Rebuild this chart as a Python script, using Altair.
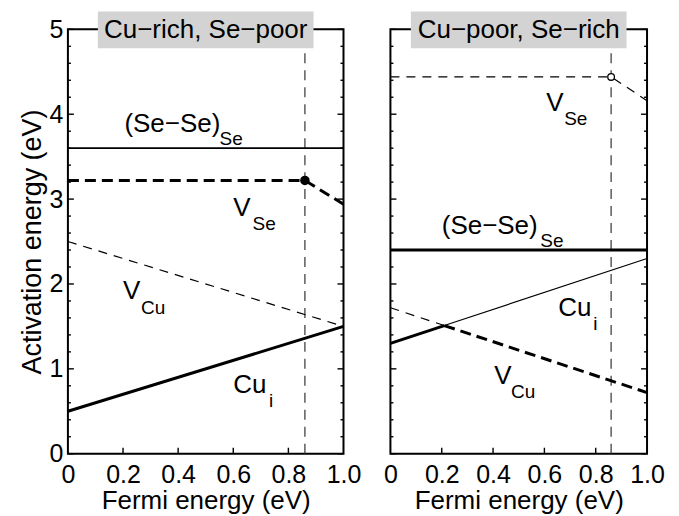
import altair as alt
import pandas as pd

# ---------------- data ----------------
fermi_level = 0.86
x_ticks = [0, 0.2, 0.4, 0.6, 0.8, 1.0]
y_major = [0, 1, 2, 3, 4, 5]
y_minor = [round(0.2 * i, 1) for i in range(26) if i % 5 != 0]

# Left panel: Cu-rich, Se-poor
L_SeSe_x = [0.0, 1.0]
L_SeSe_y = [3.6, 3.6]
L_VSe_x = [0.0, 0.86, 1.0]
L_VSe_y = [3.22, 3.22, 2.94]
L_VCu_x = [0.0, 1.0]
L_VCu_y = [2.5, 1.5]
L_Cui_x = [0.0, 1.0]
L_Cui_y = [0.5, 1.5]
L_point = (0.86, 3.22)

# Right panel: Cu-poor, Se-rich
R_VSe_x = [0.0, 0.86, 1.0]
R_VSe_y = [4.44, 4.44, 4.16]
R_SeSe_x = [0.0, 1.0]
R_SeSe_y = [2.4, 2.4]
R_Cui_low_x = [0.0, 0.21]
R_Cui_low_y = [1.3, 1.51]
R_Cui_high_x = [0.21, 1.0]
R_Cui_high_y = [1.51, 2.3]
R_VCu_high_x = [0.0, 0.21]
R_VCu_high_y = [1.72, 1.51]
R_VCu_low_x = [0.21, 1.0]
R_VCu_low_y = [1.51, 0.72]
R_point = (0.86, 4.44)

# labels (main text + subscript)
L_lab_text = ["(Se\u2212Se)", "V", "V", "Cu"]
L_lab_x = [0.205, 0.60, 0.20, 0.60]
L_lab_y = [3.79, 2.80, 1.82, 0.71]
L_sub_text = ["Se", "Se", "Cu", "i"]
L_sub_x = [0.55, 0.67, 0.265, 0.73]
L_sub_y = [3.64, 2.64, 1.65, 0.55]

R_lab_text = ["V", "(Se\u2212Se)", "Cu", "V"]
R_lab_x = [0.607, 0.20, 0.654, 0.405]
R_lab_y = [4.04, 2.59, 1.62, 0.82]
R_sub_text = ["Se", "Se", "i", "Cu"]
R_sub_x = [0.677, 0.584, 0.79, 0.47]
R_sub_y = [3.87, 2.44, 1.46, 0.66]

titles = ["Cu\u2212rich, Se\u2212poor", "Cu\u2212poor, Se\u2212rich"]

FONT = "Liberation Sans"
H = 425
W_L = 276
W_R = 257


def seg_df(*pairs):
    rows = []
    for i, (xs_, ys_) in enumerate(pairs):
        for x, y in zip(xs_, ys_):
            rows.append({"x": x, "y": y, "seg": i})
    return pd.DataFrame(rows)


xs = alt.Scale(domain=[0, 1], nice=False, zero=False)
ys = alt.Scale(domain=[0, 5], nice=False, zero=False)
XN = lambda f: alt.X(f, scale=xs, axis=None)
YN = lambda f: alt.Y(f, scale=ys, axis=None)


def lines(df, width, dash=None):
    kw = dict(color="black", strokeWidth=width, strokeCap="butt")
    if dash:
        kw["strokeDash"] = dash
    return alt.Chart(df).mark_line(**kw).encode(
        x=XN("x:Q"), y=YN("y:Q"), detail="seg:N"
    )


def ytick_layers(W, values, size):
    df = pd.DataFrame({"v": values})
    left = alt.Chart(df).mark_rule(color="black", strokeWidth=1.4).encode(
        y=YN("v:Q"), x=alt.value(0), x2=alt.value(size)
    )
    right = alt.Chart(df).mark_rule(color="black", strokeWidth=1.4).encode(
        y=YN("v:Q"), x=alt.value(W - size), x2=alt.value(W)
    )
    return [left, right]


def xtick_layer(size):
    df = pd.DataFrame({"v": x_ticks[1:-1]})
    return alt.Chart(df).mark_rule(color="black", strokeWidth=1.4).encode(
        x=XN("v:Q"), y=alt.value(H - size), y2=alt.value(H)
    )


def panel(W, title, line_layers, point, filled, lab, sub, show_y):
    x_lab_axis = alt.Axis(
        orient="bottom", values=x_ticks, ticks=False, domain=False, grid=False,
        labelExpr="datum.value == 0 ? '0' : format(datum.value, '.1f')",
        title="Fermi energy (eV)", labelFontSize=25, titleFontSize=26,
        labelPadding=9, titlePadding=0, labelFlush=False,
    )
    if show_y:
        y_axis = alt.Axis(
            orient="left", values=y_major, ticks=False, domain=False, grid=False,
            format="d", title="Activation energy (eV)", labelFontSize=25,
            titleFontSize=27, labelPadding=5, titlePadding=3,
        )
    else:
        y_axis = None

    vdf = pd.DataFrame({"x": [fermi_level], "y0": [0], "y1": [5]})
    vline = alt.Chart(vdf).mark_rule(
        color="#333333", strokeWidth=1.2, strokeDash=[10, 7]
    ).encode(
        x=alt.X("x:Q", scale=xs, axis=x_lab_axis),
        y=alt.Y("y0:Q", scale=ys, axis=y_axis),
        y2="y1:Q",
    )

    pdf = pd.DataFrame({"x": [point[0]], "y": [point[1]]})
    if filled:
        pt = alt.Chart(pdf).mark_point(filled=True, color="black", size=90, opacity=1)
    else:
        pt = alt.Chart(pdf).mark_point(
            filled=False, stroke="black", fill="white", fillOpacity=1,
            strokeWidth=1.3, size=45, opacity=1
        )
    pt = pt.encode(x=XN("x:Q"), y=YN("y:Q"))

    ldf = pd.DataFrame({"t": lab[0], "x": lab[1], "y": lab[2]})
    sdf = pd.DataFrame({"t": sub[0], "x": sub[1], "y": sub[2]})
    labels = alt.Chart(ldf).mark_text(
        align="left", baseline="alphabetic", fontSize=26, font=FONT, color="black"
    ).encode(x=XN("x:Q"), y=YN("y:Q"), text="t:N")
    subs = alt.Chart(sdf).mark_text(
        align="left", baseline="alphabetic", fontSize=19, font=FONT, color="black"
    ).encode(x=XN("x:Q"), y=YN("y:Q"), text="t:N")

    tdf = pd.DataFrame({"t": [title]})
    box = alt.Chart(tdf).mark_rect(color="#d3d3d3").encode(
        x=alt.value(W / 2 - 108), x2=alt.value(W / 2 + 108),
        y=alt.value(-18), y2=alt.value(19),
    )
    ttext = alt.Chart(tdf).mark_text(
        align="center", baseline="middle", fontSize=26, font=FONT, color="black", dy=1
    ).encode(x=alt.value(W / 2), y=alt.value(0), text="t:N")

    layer = alt.layer(
        vline,
        *ytick_layers(W, y_major, 6),
        *ytick_layers(W, y_minor, 3),
        xtick_layer(6),
        *line_layers, pt, labels, subs, box, ttext
    ).resolve_axis(x="independent", y="independent").properties(width=W, height=H)
    return layer


left = panel(
    W_L, titles[0],
    [
        lines(seg_df((L_SeSe_x, L_SeSe_y)), 1.8),
        lines(seg_df((L_VSe_x, L_VSe_y)), 3, [11, 6]),
        lines(seg_df((L_VCu_x, L_VCu_y)), 1.2, [9, 7]),
        lines(seg_df((L_Cui_x, L_Cui_y)), 3),
    ],
    L_point, True,
    (L_lab_text, L_lab_x, L_lab_y), (L_sub_text, L_sub_x, L_sub_y), True,
)

right = panel(
    W_R, titles[1],
    [
        lines(seg_df((R_VSe_x, R_VSe_y)), 1.2, [9, 7]),
        lines(seg_df((R_SeSe_x, R_SeSe_y)), 3),
        lines(seg_df((R_Cui_low_x, R_Cui_low_y)), 3),
        lines(seg_df((R_Cui_high_x, R_Cui_high_y)), 1.2),
        lines(seg_df((R_VCu_high_x, R_VCu_high_y)), 1.2, [9, 7]),
        lines(seg_df((R_VCu_low_x, R_VCu_low_y)), 3, [11, 6]),
    ],
    R_point, False,
    (R_lab_text, R_lab_x, R_lab_y), (R_sub_text, R_sub_x, R_sub_y), False,
)

chart = alt.hconcat(left, right, spacing=47, bounds="flush").properties(
    padding={"left": 9, "top": 2, "right": 5, "bottom": 0},
    background="white",
).configure_view(
    stroke="black", strokeWidth=2
).configure_axis(
    labelColor="black", titleColor="black",
    labelFont=FONT, titleFont=FONT, titleFontWeight="normal",
)

chart.save("out.html", embed_options={"renderer": "svg", "actions": False})
